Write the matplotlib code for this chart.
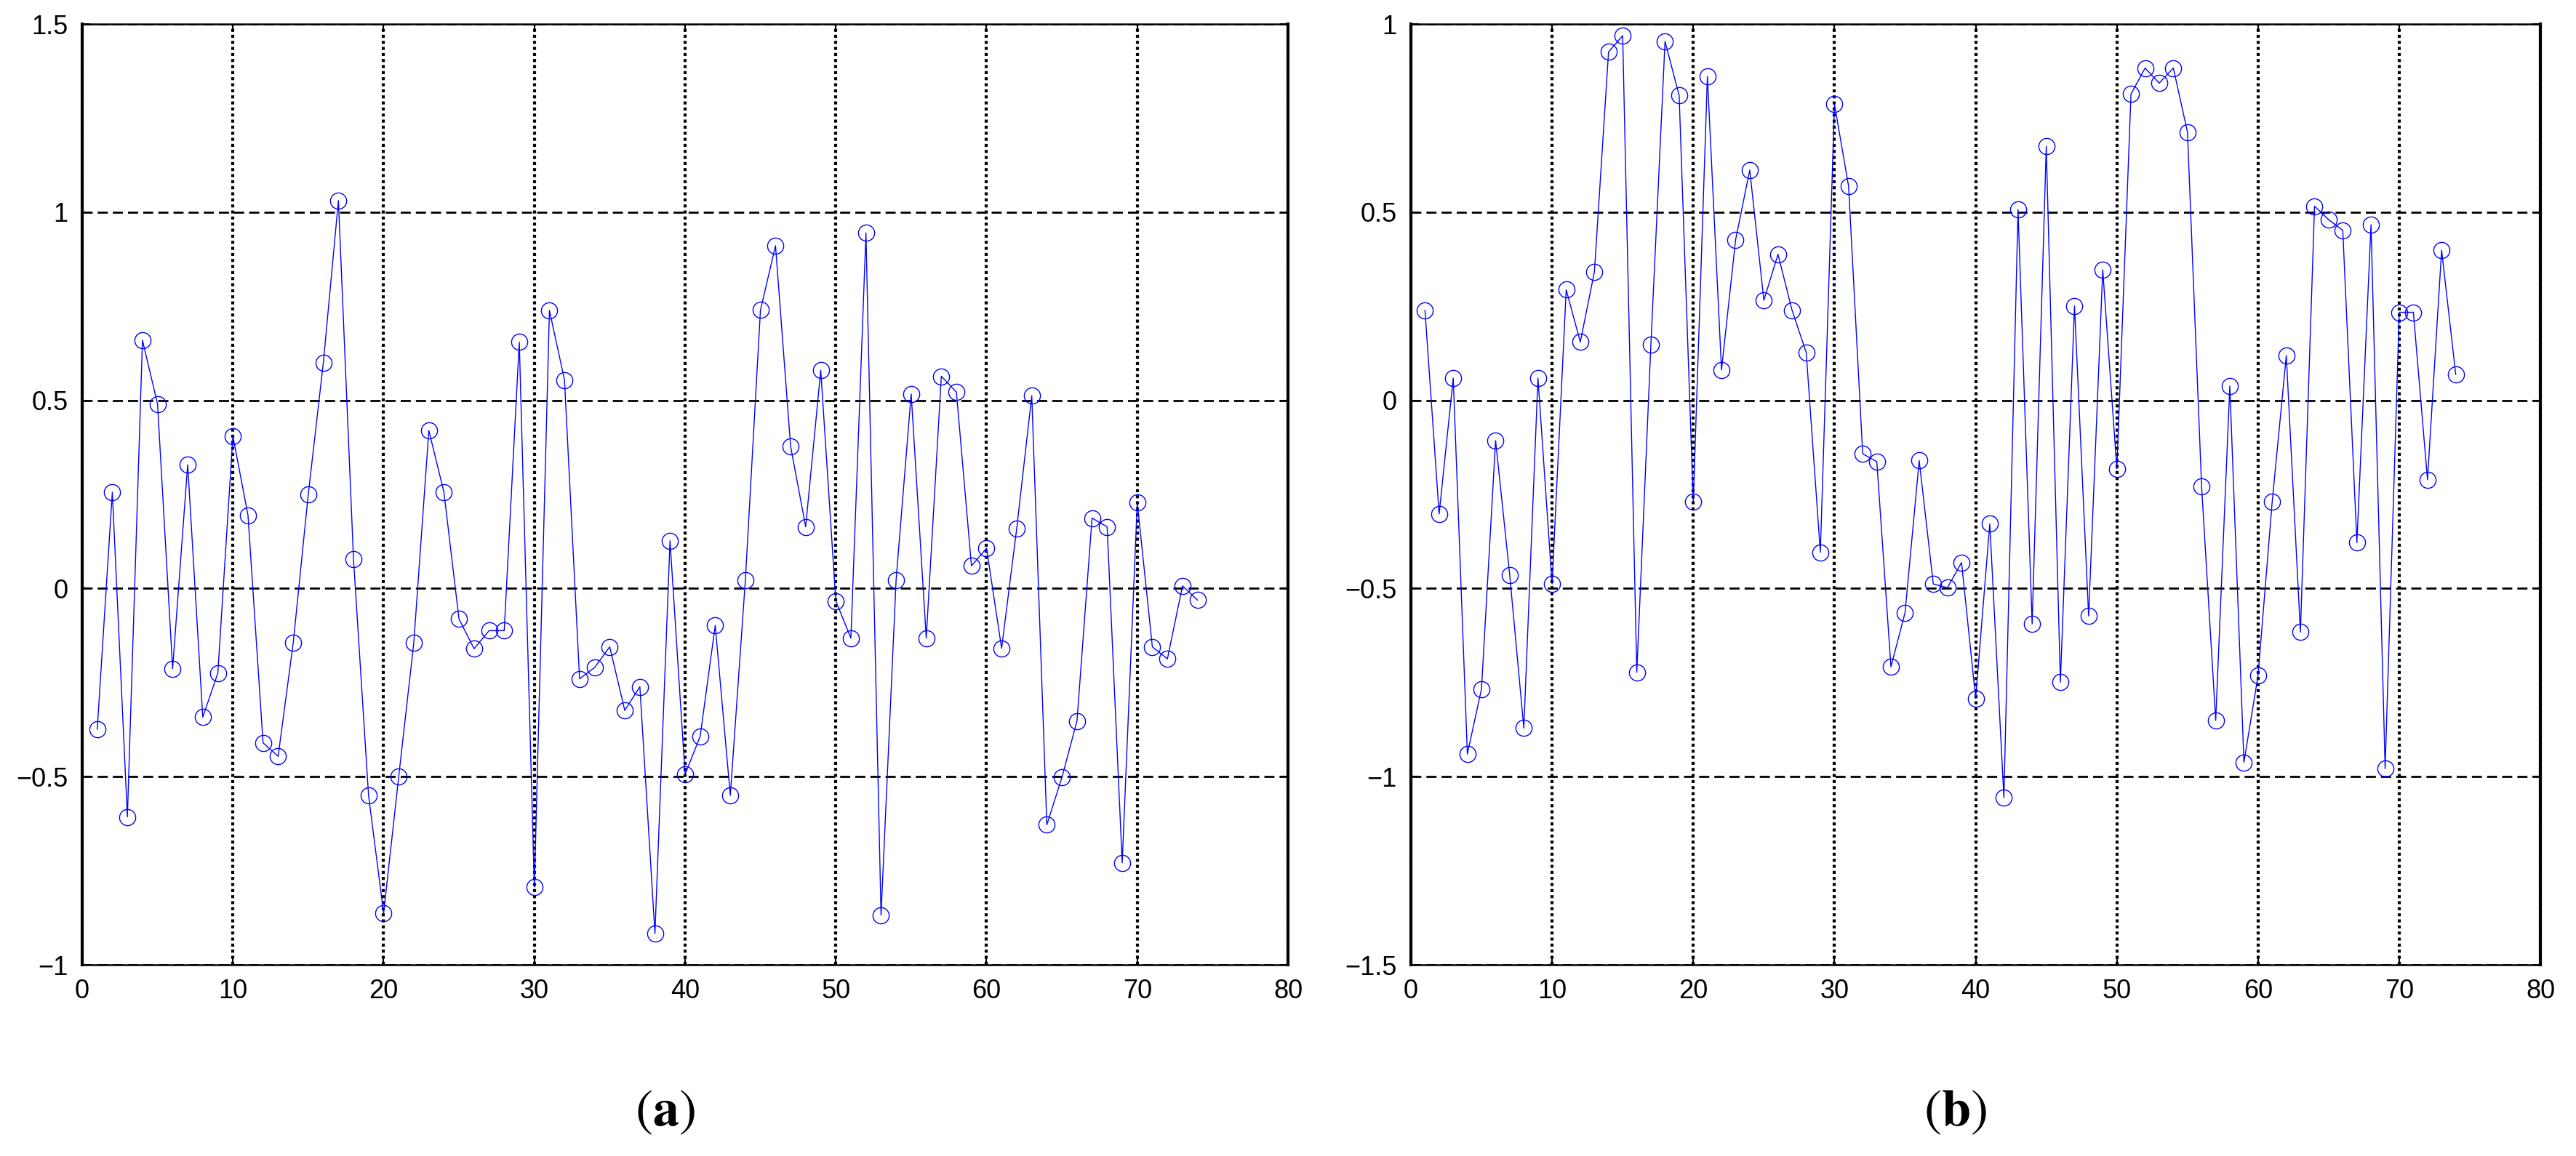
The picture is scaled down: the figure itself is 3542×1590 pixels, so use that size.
import matplotlib
matplotlib.use("Agg")
import matplotlib.pyplot as plt
from matplotlib.ticker import FixedLocator, FuncFormatter
import numpy as np

# sample index 1..74
idx = np.arange(1, 75)

# series of panel (a)
vals_a = [-0.374, 0.256, -0.607, 0.660, 0.490, -0.213, 0.329, -0.342, -0.225, 0.405,
          0.195, -0.410, -0.446, -0.145, 0.250, 0.600, 1.031, 0.079, -0.550, -0.863,
          -0.500, -0.145, 0.420, 0.256, -0.081, -0.160, -0.112, -0.112, 0.655, -0.793,
          0.739, 0.554, -0.240, -0.210, -0.155, -0.324, -0.261, -0.917, 0.127, -0.494,
          -0.393, -0.098, -0.550, 0.023, 0.740, 0.911, 0.378, 0.164, 0.580, -0.033,
          -0.132, 0.945, -0.868, 0.023, 0.517, -0.132, 0.564, 0.522, 0.060, 0.107,
          -0.159, 0.159, 0.512, -0.628, -0.502, -0.352, 0.187, 0.164, -0.729, 0.228,
          -0.155, -0.187, 0.007, -0.031]

# series of panel (b)
vals_b = [0.239, -0.302, 0.059, -0.940, -0.767, -0.107, -0.464, -0.871, 0.059, -0.488,
          0.294, 0.155, 0.342, 0.926, 0.969, -0.723, 0.149, 0.954, 0.810, -0.270,
          0.861, 0.081, 0.427, 0.612, 0.266, 0.388, 0.239, 0.127, -0.404, 0.787,
          0.569, -0.142, -0.163, -0.708, -0.564, -0.160, -0.488, -0.498, -0.431, -0.792,
          -0.328, -1.056, 0.507, -0.594, 0.675, -0.749, 0.251, -0.573, 0.347, -0.182,
          0.814, 0.883, 0.843, 0.883, 0.713, -0.228, -0.850, 0.038, -0.962, -0.731,
          -0.270, 0.119, -0.616, 0.516, 0.480, 0.452, -0.378, 0.467, -0.979, 0.234,
          0.234, -0.211, 0.399, 0.069]

x_ticks = [0, 10, 20, 30, 40, 50, 60, 70, 80]
y_ticks_a = [-1, -0.5, 0, 0.5, 1, 1.5]
y_ticks_b = [-1.5, -1, -0.5, 0, 0.5, 1]
panel_labels = ["a", "b"]

plt.rcParams['font.family'] = ['Liberation Sans', 'DejaVu Sans']
plt.rcParams['mathtext.fontset'] = 'stix'


def fmt_tick(v, pos):
    s = "%g" % v
    return s.replace("-", "\u2212")


def draw_panel(ax, y, y_ticks):
    """one MATLAB-looking panel"""
    ax.plot(idx, y, color=(0, 0, 1), lw=1.0, marker='o', ms=16,
            mfc='none', mec=(0, 0, 1), mew=1.0, zorder=3)
    ax.set_xlim(0, 80)
    ax.set_ylim(y_ticks[0], y_ticks[-1])
    ax.xaxis.set_major_locator(FixedLocator(x_ticks))
    ax.yaxis.set_major_locator(FixedLocator(y_ticks))
    ax.xaxis.set_major_formatter(FuncFormatter(fmt_tick))
    ax.yaxis.set_major_formatter(FuncFormatter(fmt_tick))

    # vertical grid dotted, horizontal dashed
    ax.xaxis.grid(True, color='black', lw=3.0, linestyle=(0, (1, 1)))
    ax.yaxis.grid(True, color='black', lw=2.0, linestyle=(0, (5, 2.5)))
    ax.set_axisbelow(True)

    ax.tick_params(direction='in', length=8, width=1.5, labelsize=26,
                   top=True, right=True, pad=14)
    for side in ['left', 'right']:
        ax.spines[side].set_linewidth(3.0)
    for side in ['top', 'bottom']:
        ax.spines[side].set_linewidth(1.8)


fig = plt.figure(figsize=(35.42, 15.90), dpi=100)
ax_a = fig.add_axes([0.0319, 0.1654, 0.4681, 0.8138])
ax_b = fig.add_axes([0.5477, 0.1654, 0.4385, 0.8138])

draw_panel(ax_a, vals_a, y_ticks_a)
draw_panel(ax_b, vals_b, y_ticks_b)

# panel letters under each plot
fig.text(0.2583, 0.0377, r'$(\mathbf{%s})$' % panel_labels[0], fontsize=52,
         ha='center', va='center')
fig.text(0.7589, 0.0377, r'$(\mathbf{%s})$' % panel_labels[1], fontsize=52,
         ha='center', va='center')

fig.savefig("out.png", dpi=100)
plt.close(fig)
